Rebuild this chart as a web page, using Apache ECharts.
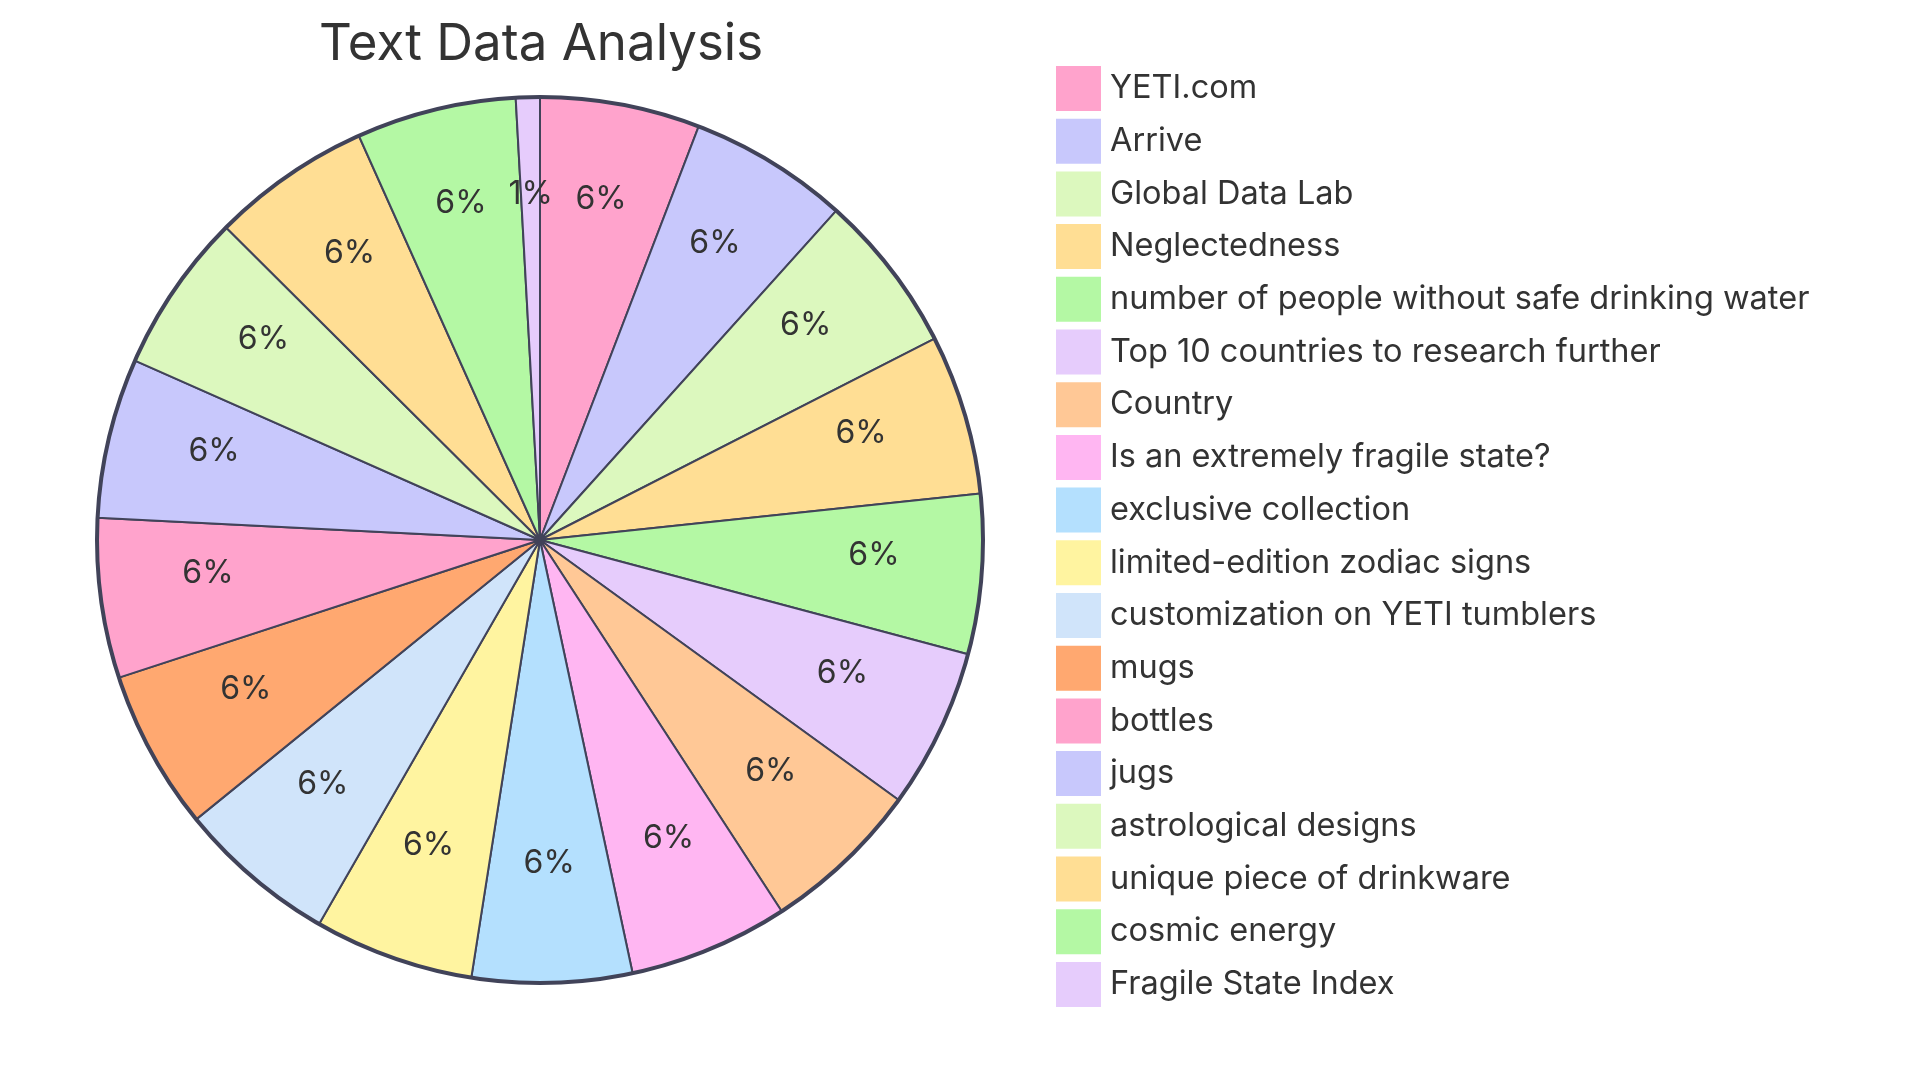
<!DOCTYPE html>
<html><head><meta charset="utf-8">
<script src="https://cdn.jsdelivr.net/npm/echarts@6/dist/echarts.min.js"></script>
<style>html,body{margin:0;padding:0;background:#fff}#c{width:1920px;height:1080px}</style>
</head><body><div id="c"></div>
<script>
const categories = ["YETI.com","Arrive","Global Data Lab","Neglectedness","number of people without safe drinking water","Top 10 countries to research further","Country","Is an extremely fragile state?","exclusive collection","limited-edition zodiac signs","customization on YETI tumblers","mugs","bottles","jugs","astrological designs","unique piece of drinkware","cosmic energy","Fragile State Index"];
const values = [6,6,6,6,6,6,6,6,6,6,6,6,6,6,6,6,6,0.9];
const colors = ["#FFA3CC","#C8C8FC","#DCF8BE","#FFDE94","#B4F8A4","#E6CCFC","#FFC896","#FFB6F2","#B4E0FE","#FFF4A0","#D0E4FA","#FFA870","#FFA3CC","#C8C8FC","#DCF8BE","#FFDE94","#B4F8A4","#E6CCFC"];
const title = "Text Data Analysis";

const data = categories.map((n,i)=>({name:n,value:values[i],itemStyle:{color:colors[i]}}));
const chart = echarts.init(document.getElementById('c'));
chart.setOption({
  animation:false,
  title:{text:title,left:536,top:14,textAlign:'center',textStyle:{fontFamily:'Inter',fontSize:51,fontWeight:'normal',color:'#333'}},
  legend:{orient:'vertical',left:1056,top:66,padding:0,itemWidth:45,itemHeight:45,itemGap:7.7,icon:'rect',
    itemStyle:{borderWidth:0},
    textStyle:{fontFamily:'Inter',fontSize:32.5,color:'#333',padding:[0,0,0,4]},data:categories},
  graphic:[{type:'circle',z:100,silent:true,shape:{cx:540,cy:540,r:443},style:{fill:'none',stroke:'#414359',lineWidth:4}}],
  series:[
    {type:'pie',center:[540,540],radius:[0,443],startAngle:90,clockwise:true,label:{show:false},labelLine:{show:false},
     itemStyle:{borderColor:'#414359',borderWidth:2},emphasis:{disabled:true},data:data},
    {type:'pie',center:[540,540],radius:[221,443],startAngle:90,clockwise:true,silent:true,legendHoverLink:false,
     itemStyle:{color:'rgba(0,0,0,0)',borderWidth:0},emphasis:{disabled:true},
     label:{show:true,position:'inside',offset:[0,-11],fontFamily:'Inter',fontSize:32,color:'#333',formatter:p=>Math.round(p.percent)+'%'},
     labelLine:{show:false},
     data:categories.map((n,i)=>({name:n,value:values[i]}))}
  ]
});
</script></body></html>
